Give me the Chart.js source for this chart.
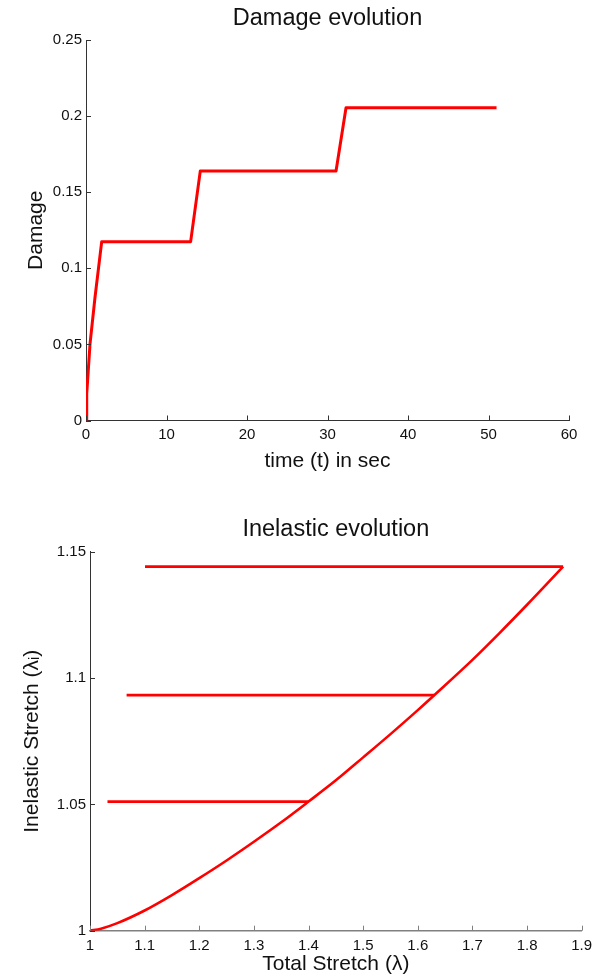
<!DOCTYPE html>
<html>
<head>
<meta charset="utf-8">
<script src="https://cdn.jsdelivr.net/npm/chart.js@4/dist/chart.umd.min.js"></script>
<style>
  html, body { margin: 0; padding: 0; background: #fff; }
  #page { position: relative; width: 595px; height: 977px; background: #fff; }
  .panel { position: absolute; left: 0; width: 595px; }
  #damagePanel { top: 0; height: 488px; }
  #inelasticPanel { top: 488px; height: 489px; }
  canvas { display: block; }
</style>
</head>
<body>
<div id="page">
  <div class="panel" id="damagePanel"><canvas id="damageChart" width="595" height="488"></canvas></div>
  <div class="panel" id="inelasticPanel"><canvas id="inelasticChart" width="595" height="489"></canvas></div>
</div>
<script>
// Damage history: time (s) and damage variable
const damageTime  = [0, 0.09, 0.5, 1.12, 1.95, 13.0, 14.2, 31.06, 32.3, 51.0];
const damageValue = [0, 0.0175, 0.0503, 0.081, 0.1175, 0.1175, 0.164, 0.164, 0.2055, 0.2055];

// Loading branch: total stretch vs inelastic stretch
const loadStretch = [1, 1.02, 1.05, 1.1, 1.15, 1.2, 1.25, 1.3, 1.35, 1.4,
                     1.45, 1.5, 1.55, 1.6, 1.63, 1.7, 1.75, 1.8, 1.866];
const loadInelastic = [1, 1.0008, 1.003, 1.008, 1.0141, 1.0208, 1.0278, 1.0352, 1.0429, 1.0511,
                       1.0595, 1.0686, 1.0778, 1.0873, 1.0932, 1.1072, 1.1179, 1.129, 1.1441];

// Unload/reload plateaus: inelastic stretch held while total stretch drops
const plateauLevel = [1.0511, 1.0932, 1.1441];
const plateauFrom  = [1.4, 1.63, 1.866];
const plateauTo    = [1.032, 1.067, 1.1007];

// Tick values
const timeTicks = [0, 10, 20, 30, 40, 50, 60];
const damageTicks = [0, 0.05, 0.1, 0.15, 0.2, 0.25];
const stretchTicks = [1, 1.1, 1.2, 1.3, 1.4, 1.5, 1.6, 1.7, 1.8, 1.9];
const inelasticTicks = [1, 1.05, 1.1, 1.15];

const FONT = "'Liberation Sans', Arial, Helvetica, sans-serif";
const TEXT = '#111111';
const RED = '#ff0000';

function toPoints(xs, ys) {
  return xs.map((x, i) => ({ x: x, y: ys[i] }));
}
function fmt(v) {
  return String(Number(v.toFixed(3)));
}
function fixedTicks(values) {
  return function (scale) {
    scale.ticks = values.map(v => ({ value: v }));
  };
}
function lineSet(points, width, smooth) {
  return {
    data: points,
    showLine: true,
    borderColor: RED,
    backgroundColor: RED,
    borderWidth: width,
    pointRadius: 0,
    pointHoverRadius: 0,
    tension: 0,
    cubicInterpolationMode: smooth ? 'monotone' : 'default',
    borderJoinStyle: 'round',
    borderCapStyle: 'butt'
  };
}

// Short tick marks pointing into the plot area, like classic MATLAB axes
const inwardTicks = {
  id: 'inwardTicks',
  afterDatasetsDraw(chart, args, opts) {
    const { ctx, chartArea: a, scales } = chart;
    const len = opts.length || 5;
    ctx.save();
    ctx.lineWidth = 1;
    const xs = scales.x, ys = scales.y;
    ctx.strokeStyle = opts.xColor;
    xs.ticks.forEach(t => {
      const p = Math.round(xs.getPixelForValue(t.value)) + 0.5;
      ctx.beginPath();
      ctx.moveTo(p, a.bottom);
      ctx.lineTo(p, a.bottom - len);
      ctx.stroke();
    });
    ctx.strokeStyle = opts.yColor;
    ys.ticks.forEach(t => {
      const p = Math.round(ys.getPixelForValue(t.value)) + 0.5;
      ctx.beginPath();
      ctx.moveTo(a.left, p);
      ctx.lineTo(a.left + len, p);
      ctx.stroke();
    });
    ctx.restore();
  }
};

function makeChart(canvasId, cfg) {
  return new Chart(document.getElementById(canvasId), {
    type: 'scatter',
    data: { datasets: cfg.datasets },
    options: {
      responsive: false,
      animation: false,
      devicePixelRatio: 1,
      layout: { padding: cfg.padding },
      plugins: {
        legend: { display: false },
        tooltip: { enabled: false },
        title: {
          display: true,
          text: cfg.title,
          color: TEXT,
          fullSize: false,
          font: { family: FONT, size: 23.5, weight: 'normal', lineHeight: 1.2 },
          padding: cfg.titlePadding
        },
        inwardTicks: { length: 5, xColor: cfg.xAxisColor, yColor: cfg.yAxisColor }
      },
      scales: {
        x: {
          type: 'linear',
          position: 'bottom',
          min: cfg.xMin, max: cfg.xMax,
          afterBuildTicks: fixedTicks(cfg.xTicks),
          afterFit: s => {
            s.height = cfg.xAxisHeight;
            s.paddingLeft = 0;
            s.paddingRight = 0;
          },
          grid: { display: false, drawTicks: false, drawOnChartArea: false },
          border: { display: true, color: cfg.xAxisColor, width: cfg.xAxisWidth },
          ticks: {
            color: TEXT, padding: cfg.xTickPad, autoSkip: false, maxRotation: 0,
            font: { family: FONT, size: 15 },
            callback: v => fmt(v)
          },
          title: {
            display: true, text: cfg.xLabel, color: TEXT,
            font: { family: FONT, size: 21, lineHeight: 1.2 },
            padding: { top: 0, bottom: 0 }
          }
        },
        y: {
          type: 'linear',
          position: 'left',
          min: cfg.yMin, max: cfg.yMax,
          afterBuildTicks: fixedTicks(cfg.yTicks),
          afterFit: s => {
            s.width = cfg.yAxisWidth;
            s.paddingTop = 0;
            s.paddingBottom = 0;
          },
          grid: { display: false, drawTicks: false, drawOnChartArea: false },
          border: { display: true, color: cfg.yAxisColor, width: 1 },
          ticks: {
            color: TEXT, padding: 4, autoSkip: false,
            font: { family: FONT, size: 15 },
            callback: v => fmt(v)
          },
          title: {
            display: true, text: cfg.yLabel, color: TEXT,
            font: { family: FONT, size: 21, lineHeight: 1.2 },
            padding: { top: 11.4, bottom: 0 }
          }
        }
      }
    },
    plugins: [inwardTicks]
  });
}

makeChart('damageChart', {
  datasets: [lineSet(toPoints(damageTime, damageValue), 3, false)],
  title: 'Damage evolution',
  titlePadding: { top: 4.4, bottom: 7.4 },
  padding: { left: 12, right: 26, top: 0, bottom: 14.4 },
  xMin: 0, xMax: 60, xTicks: timeTicks,
  yMin: 0, yMax: 0.25, yTicks: damageTicks,
  xAxisHeight: 53.1, yAxisWidth: 74, xTickPad: 5,
  xAxisColor: '#333333', xAxisWidth: 1,
  yAxisColor: '#333333',
  xLabel: 'time (t) in sec',
  yLabel: 'Damage'
});

const inelasticSets = [lineSet(toPoints(loadStretch, loadInelastic), 2.6, true)];
plateauLevel.forEach((lvl, i) => {
  inelasticSets.push(lineSet([{ x: plateauFrom[i], y: lvl }, { x: plateauTo[i], y: lvl }], 2.8, false));
});

makeChart('inelasticChart', {
  datasets: inelasticSets,
  title: 'Inelastic evolution',
  titlePadding: { top: 27.9, bottom: 7.6 },
  padding: { left: 8, right: 13.3, top: 0, bottom: 0 },
  xMin: 1, xMax: 1.9, xTicks: stretchTicks,
  yMin: 1, yMax: 1.15, yTicks: inelasticTicks,
  xAxisHeight: 46.3, yAxisWidth: 82, xTickPad: 6,
  xAxisColor: '#808080', xAxisWidth: 1.5,
  yAxisColor: '#333333',
  xLabel: 'Total Stretch (\u03bb)',
  yLabel: 'Inelastic Stretch (\u03bb\u1d62)'
});
</script>
</body>
</html>
